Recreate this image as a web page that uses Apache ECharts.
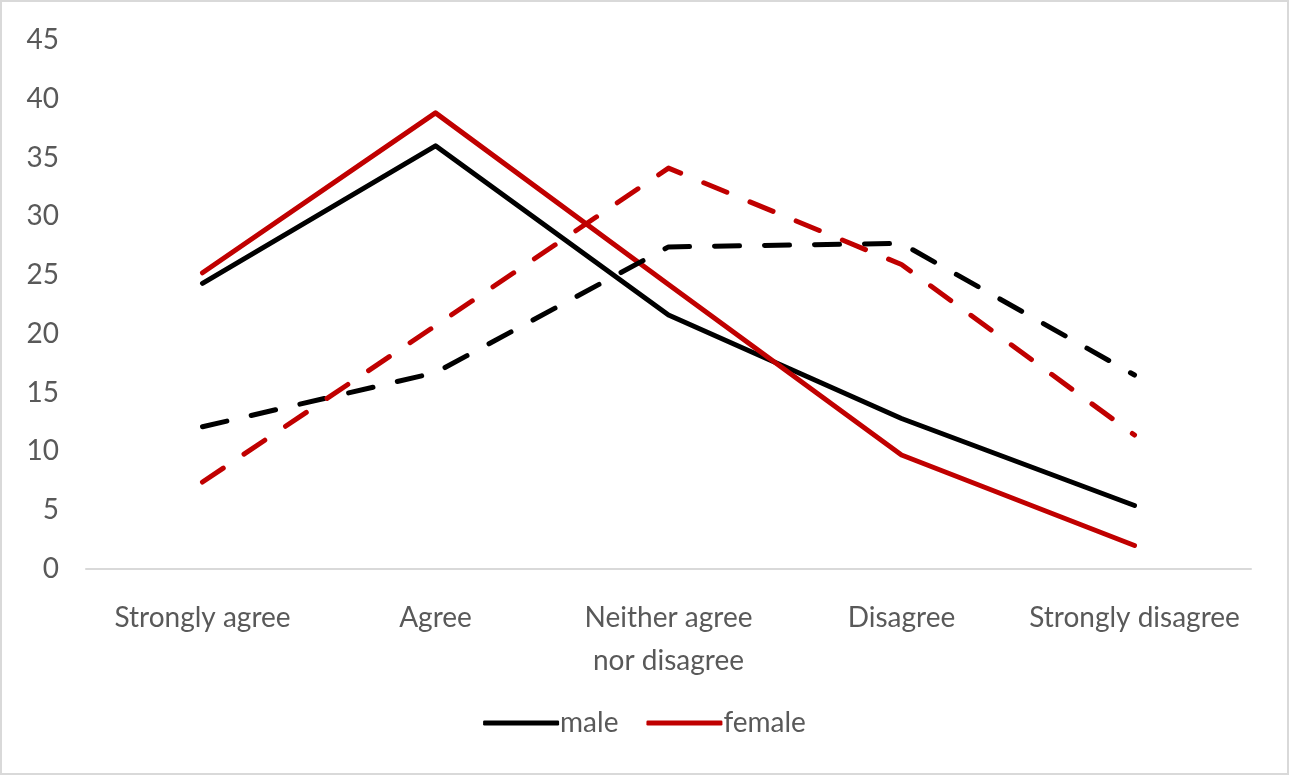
<!DOCTYPE html>
<html>
<head>
<meta charset="utf-8">
<script src="https://cdn.jsdelivr.net/npm/echarts@6/dist/echarts.min.js"></script>
<style>
  html, body { margin: 0; padding: 0; background: #fff; }
  #chart { width: 1289px; height: 775px; box-sizing: border-box; border: 2px solid #d9d9d9; }
</style>
</head>
<body>
<div id="chart"></div>
<script>
// 数据
var categories = ["Strongly agree", "Agree", "Neither agree\nnor disagree", "Disagree", "Strongly disagree"];
var maleSolid = [24.3, 36.0, 21.6, 12.8, 5.4];
var femaleSolid = [25.2, 38.8, 24.2, 9.7, 2.0];
var maleDashed = [12.1, 16.7, 27.4, 27.7, 16.5];
var femaleDashed = [7.4, 20.7, 34.1, 25.9, 11.4];

(function () {
  var myChart = echarts.init(document.getElementById("chart"));
  var font = "Lato";
  var textColor = "#595959";

  function lineSeries(name, data, color, dashed) {
    return {
      name: name,
      type: "line",
      data: data,
      symbol: "none",
      color: color,
      lineStyle: {
        color: color,
        width: 5,
        cap: "round",
        join: "round",
        type: dashed ? [25, 25] : "solid"
      }
    };
  }

  var option = {
    animation: false,
    legend: {
      data: ["male", "female"],
      bottom: 31,
      left: "center",
      itemWidth: 76,
      itemHeight: 5,
      itemGap: 28,
      icon: "roundRect",
      textStyle: { color: textColor, fontFamily: font, fontSize: 28, padding: [0, 0, 0, -4] }
    },
    grid: {
      left: 84,
      right: 36,
      top: 38,
      bottom: 204
    },
    xAxis: {
      type: "category",
      data: categories,
      boundaryGap: true,
      axisTick: { show: false },
      axisLine: { lineStyle: { color: "#d9d9d9", width: 2 } },
      axisLabel: {
        color: textColor,
        fontFamily: font,
        fontSize: 28,
        margin: 27,
        lineHeight: 43,
        interval: 0
      }
    },
    yAxis: {
      type: "value",
      min: 0,
      max: 45,
      interval: 5,
      axisLine: { show: false },
      axisTick: { show: false },
      splitLine: { show: false },
      axisLabel: { color: textColor, fontFamily: font, fontSize: 28, margin: 27 }
    },
    series: [
      lineSeries("male", maleSolid, "#000000", false),
      lineSeries("female", femaleSolid, "#c00000", false),
      lineSeries("male dashed", maleDashed, "#000000", true),
      lineSeries("female dashed", femaleDashed, "#c00000", true)
    ]
  };

  myChart.setOption(option);
  window.addEventListener("resize", function () {
    myChart.resize();
  });
})();
</script>
</body>
</html>
